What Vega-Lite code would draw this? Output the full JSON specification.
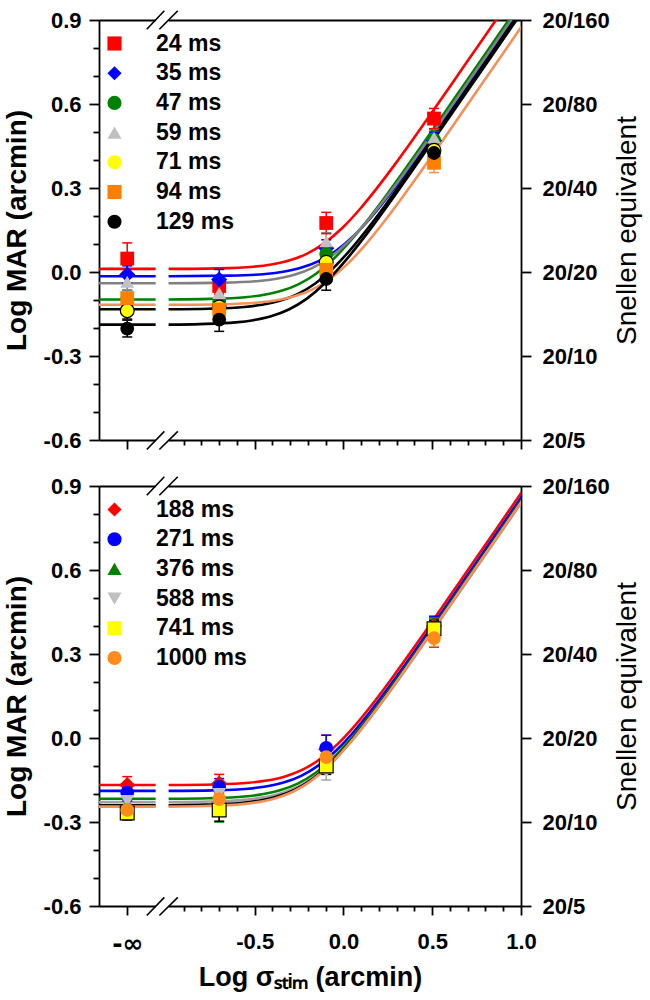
{
"$schema": "https://vega.github.io/schema/vega-lite/v6.json",
"padding": {"left": 3, "top": 9, "right": 2, "bottom": 2},
"background": "white",
"config": {
  "font": "Liberation Sans",
  "view": {"stroke": null},
  "concat": {"spacing": 24},
  "axis": {"labelFont": "Liberation Sans", "labelFontWeight": "bold", "labelFontSize": 22, "labelColor": "black",
           "titleFont": "Liberation Sans", "titleFontWeight": "bold", "titleFontSize": 28, "titleColor": "black",
           "domainColor": "black", "tickColor": "black", "domainWidth": 1.8, "tickWidth": 1.8, "grid": false,
           "labelFlush": false, "labelOverlap": false, "labelBound": false},
  "legend": {"orient": "none", "legendX": 4, "legendY": 12, "padding": 0, "labelFont": "Liberation Sans", "labelFontWeight": "bold",
             "labelFontSize": 23, "labelColor": "black", "labelOffset": 30, "rowPadding": 5.7, "symbolSize": 200, "symbolStrokeWidth": 0}
},
"datasets": {
  "gaps": [{"x": -1.058, "x2": -0.985, "y": -0.6}, {"x": -1.058, "x2": -0.985, "y": 0.9}],
  "slashes": [
    {"xa": -1.108, "ya": -0.634, "xb": -1.009, "yb": -0.569},
    {"xa": -1.037, "ya": -0.634, "xb": -0.933, "yb": -0.569},
    {"xa": -1.108, "ya": 0.867, "xb": -1.009, "yb": 0.933},
    {"xa": -1.037, "ya": 0.867, "xb": -0.933, "yb": 0.933}
  ],
  "pts1": [
    {"s":"24 ms","x":-1.218,"y":0.048,"lo":-0.008,"hi":0.104},
    {"s":"24 ms","x":-0.7,"y":-0.05,"lo":-0.08,"hi":-0.02},
    {"s":"24 ms","x":-0.097,"y":0.175,"lo":0.137,"hi":0.213},
    {"s":"24 ms","x":0.51,"y":0.548,"lo":0.512,"hi":0.584},
    {"s":"35 ms","x":-1.218,"y":-0.009,"lo":-0.04,"hi":0.022},
    {"s":"35 ms","x":-0.7,"y":-0.027,"lo":-0.063,"hi":0.009},
    {"s":"35 ms","x":-0.097,"y":0.085,"lo":0.055,"hi":0.115},
    {"s":"35 ms","x":0.51,"y":0.47,"lo":0.44,"hi":0.5},
    {"s":"47 ms","x":-1.218,"y":-0.095,"lo":-0.125,"hi":-0.065},
    {"s":"47 ms","x":-0.7,"y":-0.105,"lo":-0.135,"hi":-0.075},
    {"s":"47 ms","x":-0.097,"y":0.065,"lo":0.035,"hi":0.095},
    {"s":"47 ms","x":0.51,"y":0.473,"lo":0.443,"hi":0.503},
    {"s":"59 ms","x":-1.218,"y":-0.035,"lo":-0.065,"hi":-0.005},
    {"s":"59 ms","x":-0.7,"y":-0.075,"lo":-0.105,"hi":-0.045},
    {"s":"59 ms","x":-0.097,"y":0.11,"lo":0.08,"hi":0.14},
    {"s":"59 ms","x":0.51,"y":0.48,"lo":0.45,"hi":0.51},
    {"s":"71 ms","x":-1.218,"y":-0.138,"lo":-0.168,"hi":-0.108},
    {"s":"71 ms","x":-0.7,"y":-0.125,"lo":-0.155,"hi":-0.095},
    {"s":"71 ms","x":-0.097,"y":0.035,"lo":0.005,"hi":0.065},
    {"s":"71 ms","x":0.51,"y":0.435,"lo":0.405,"hi":0.465},
    {"s":"94 ms","x":-1.218,"y":-0.093,"lo":-0.123,"hi":-0.063},
    {"s":"94 ms","x":-0.7,"y":-0.134,"lo":-0.169,"hi":-0.099},
    {"s":"94 ms","x":-0.097,"y":0.008,"lo":-0.022,"hi":0.038},
    {"s":"94 ms","x":0.51,"y":0.39,"lo":0.355,"hi":0.425},
    {"s":"129 ms","x":-1.218,"y":-0.202,"lo":-0.232,"hi":-0.172},
    {"s":"129 ms","x":-0.7,"y":-0.17,"lo":-0.212,"hi":-0.128},
    {"s":"129 ms","x":-0.097,"y":-0.025,"lo":-0.065,"hi":0.015},
    {"s":"129 ms","x":0.51,"y":0.425,"lo":0.395,"hi":0.455}
  ],
  "pts2": [
    {"s":"188 ms","x":-1.218,"y":-0.168,"lo":-0.198,"hi":-0.138},
    {"s":"188 ms","x":-0.7,"y":-0.163,"lo":-0.196,"hi":-0.13},
    {"s":"188 ms","x":-0.097,"y":-0.04,"lo":-0.09,"hi":0.01},
    {"s":"188 ms","x":0.51,"y":0.4,"lo":0.37,"hi":0.43},
    {"s":"271 ms","x":-1.218,"y":-0.195,"lo":-0.225,"hi":-0.165},
    {"s":"271 ms","x":-0.7,"y":-0.175,"lo":-0.205,"hi":-0.145},
    {"s":"271 ms","x":-0.097,"y":-0.035,"lo":-0.08,"hi":0.01},
    {"s":"271 ms","x":0.51,"y":0.38,"lo":0.325,"hi":0.435},
    {"s":"376 ms","x":-1.218,"y":-0.235,"lo":-0.265,"hi":-0.205},
    {"s":"376 ms","x":-0.7,"y":-0.255,"lo":-0.3,"hi":-0.21},
    {"s":"376 ms","x":-0.097,"y":-0.085,"lo":-0.115,"hi":-0.055},
    {"s":"376 ms","x":0.51,"y":0.405,"lo":0.385,"hi":0.425},
    {"s":"588 ms","x":-1.218,"y":-0.225,"lo":-0.255,"hi":-0.195},
    {"s":"588 ms","x":-0.7,"y":-0.2,"lo":-0.23,"hi":-0.17},
    {"s":"588 ms","x":-0.097,"y":-0.12,"lo":-0.15,"hi":-0.09},
    {"s":"588 ms","x":0.51,"y":0.38,"lo":0.35,"hi":0.41},
    {"s":"741 ms","x":-1.218,"y":-0.268,"lo":-0.293,"hi":-0.243},
    {"s":"741 ms","x":-0.7,"y":-0.257,"lo":-0.297,"hi":-0.217},
    {"s":"741 ms","x":-0.097,"y":-0.1,"lo":-0.13,"hi":-0.07},
    {"s":"741 ms","x":0.51,"y":0.39,"lo":0.36,"hi":0.42},
    {"s":"1000 ms","x":-1.218,"y":-0.257,"lo":-0.287,"hi":-0.227},
    {"s":"1000 ms","x":-0.7,"y":-0.218,"lo":-0.248,"hi":-0.188},
    {"s":"1000 ms","x":-0.097,"y":-0.068,"lo":-0.098,"hi":-0.038},
    {"s":"1000 ms","x":0.51,"y":0.357,"lo":0.327,"hi":0.387}
  ],
  "curves1": [
    {"s":"24 ms","g":"A","x":-1.377,"y":0.011},{"s":"24 ms","g":"A","x":-1.058,"y":0.011},
    {"s":"24 ms","g":"B","x":-0.985,"y":0.011},{"s":"24 ms","g":"B","x":-0.707,"y":0.013},{"s":"24 ms","g":"B","x":-0.507,"y":0.019},{"s":"24 ms","g":"B","x":-0.407,"y":0.027},{"s":"24 ms","g":"B","x":-0.307,"y":0.041},{"s":"24 ms","g":"B","x":-0.207,"y":0.065},{"s":"24 ms","g":"B","x":-0.107,"y":0.103},{"s":"24 ms","g":"B","x":-0.007,"y":0.157},{"s":"24 ms","g":"B","x":0.093,"y":0.225},{"s":"24 ms","g":"B","x":0.193,"y":0.303},{"s":"24 ms","g":"B","x":0.293,"y":0.387},{"s":"24 ms","g":"B","x":0.393,"y":0.475},{"s":"24 ms","g":"B","x":0.493,"y":0.565},{"s":"24 ms","g":"B","x":0.693,"y":0.748},{"s":"24 ms","g":"B","x":0.893,"y":0.931},{"s":"24 ms","g":"B","x":1.093,"y":1.115},
    {"s":"35 ms","g":"A","x":-1.377,"y":-0.015},{"s":"35 ms","g":"A","x":-1.058,"y":-0.015},
    {"s":"35 ms","g":"B","x":-0.985,"y":-0.015},{"s":"35 ms","g":"B","x":-0.64,"y":-0.013},{"s":"35 ms","g":"B","x":-0.44,"y":-0.007},{"s":"35 ms","g":"B","x":-0.34,"y":0.001},{"s":"35 ms","g":"B","x":-0.24,"y":0.015},{"s":"35 ms","g":"B","x":-0.14,"y":0.039},{"s":"35 ms","g":"B","x":-0.04,"y":0.077},{"s":"35 ms","g":"B","x":0.06,"y":0.131},{"s":"35 ms","g":"B","x":0.16,"y":0.199},{"s":"35 ms","g":"B","x":0.26,"y":0.277},{"s":"35 ms","g":"B","x":0.36,"y":0.361},{"s":"35 ms","g":"B","x":0.46,"y":0.449},{"s":"35 ms","g":"B","x":0.56,"y":0.539},{"s":"35 ms","g":"B","x":0.76,"y":0.722},{"s":"35 ms","g":"B","x":0.96,"y":0.905},{"s":"35 ms","g":"B","x":1.16,"y":1.089},
    {"s":"47 ms","g":"A","x":-1.377,"y":-0.098},{"s":"47 ms","g":"A","x":-1.058,"y":-0.098},
    {"s":"47 ms","g":"B","x":-0.985,"y":-0.098},{"s":"47 ms","g":"B","x":-0.754,"y":-0.096},{"s":"47 ms","g":"B","x":-0.554,"y":-0.09},{"s":"47 ms","g":"B","x":-0.454,"y":-0.082},{"s":"47 ms","g":"B","x":-0.354,"y":-0.068},{"s":"47 ms","g":"B","x":-0.254,"y":-0.044},{"s":"47 ms","g":"B","x":-0.154,"y":-0.006},{"s":"47 ms","g":"B","x":-0.054,"y":0.048},{"s":"47 ms","g":"B","x":0.046,"y":0.116},{"s":"47 ms","g":"B","x":0.146,"y":0.194},{"s":"47 ms","g":"B","x":0.246,"y":0.278},{"s":"47 ms","g":"B","x":0.346,"y":0.366},{"s":"47 ms","g":"B","x":0.446,"y":0.456},{"s":"47 ms","g":"B","x":0.646,"y":0.639},{"s":"47 ms","g":"B","x":0.846,"y":0.822},{"s":"47 ms","g":"B","x":1.046,"y":1.006},
    {"s":"59 ms","g":"A","x":-1.377,"y":-0.04},{"s":"59 ms","g":"A","x":-1.058,"y":-0.04},
    {"s":"59 ms","g":"B","x":-0.985,"y":-0.04},{"s":"59 ms","g":"B","x":-0.677,"y":-0.038},{"s":"59 ms","g":"B","x":-0.477,"y":-0.032},{"s":"59 ms","g":"B","x":-0.377,"y":-0.024},{"s":"59 ms","g":"B","x":-0.277,"y":-0.01},{"s":"59 ms","g":"B","x":-0.177,"y":0.014},{"s":"59 ms","g":"B","x":-0.077,"y":0.052},{"s":"59 ms","g":"B","x":0.023,"y":0.106},{"s":"59 ms","g":"B","x":0.123,"y":0.174},{"s":"59 ms","g":"B","x":0.223,"y":0.252},{"s":"59 ms","g":"B","x":0.323,"y":0.336},{"s":"59 ms","g":"B","x":0.423,"y":0.424},{"s":"59 ms","g":"B","x":0.523,"y":0.514},{"s":"59 ms","g":"B","x":0.723,"y":0.697},{"s":"59 ms","g":"B","x":0.923,"y":0.88},{"s":"59 ms","g":"B","x":1.123,"y":1.064},
    {"s":"71 ms","g":"A","x":-1.377,"y":-0.133},{"s":"71 ms","g":"A","x":-1.058,"y":-0.133},
    {"s":"71 ms","g":"B","x":-0.985,"y":-0.133},{"s":"71 ms","g":"B","x":-0.759,"y":-0.131},{"s":"71 ms","g":"B","x":-0.559,"y":-0.125},{"s":"71 ms","g":"B","x":-0.459,"y":-0.117},{"s":"71 ms","g":"B","x":-0.359,"y":-0.103},{"s":"71 ms","g":"B","x":-0.259,"y":-0.079},{"s":"71 ms","g":"B","x":-0.159,"y":-0.041},{"s":"71 ms","g":"B","x":-0.059,"y":0.013},{"s":"71 ms","g":"B","x":0.041,"y":0.081},{"s":"71 ms","g":"B","x":0.141,"y":0.159},{"s":"71 ms","g":"B","x":0.241,"y":0.243},{"s":"71 ms","g":"B","x":0.341,"y":0.331},{"s":"71 ms","g":"B","x":0.441,"y":0.421},{"s":"71 ms","g":"B","x":0.641,"y":0.604},{"s":"71 ms","g":"B","x":0.841,"y":0.787},{"s":"71 ms","g":"B","x":1.041,"y":0.971},
    {"s":"94 ms","g":"A","x":-1.377,"y":-0.117},{"s":"94 ms","g":"A","x":-1.058,"y":-0.117},
    {"s":"94 ms","g":"B","x":-0.985,"y":-0.117},{"s":"94 ms","g":"B","x":-0.677,"y":-0.115},{"s":"94 ms","g":"B","x":-0.477,"y":-0.109},{"s":"94 ms","g":"B","x":-0.377,"y":-0.101},{"s":"94 ms","g":"B","x":-0.277,"y":-0.087},{"s":"94 ms","g":"B","x":-0.177,"y":-0.063},{"s":"94 ms","g":"B","x":-0.077,"y":-0.025},{"s":"94 ms","g":"B","x":0.023,"y":0.029},{"s":"94 ms","g":"B","x":0.123,"y":0.097},{"s":"94 ms","g":"B","x":0.223,"y":0.175},{"s":"94 ms","g":"B","x":0.323,"y":0.259},{"s":"94 ms","g":"B","x":0.423,"y":0.347},{"s":"94 ms","g":"B","x":0.523,"y":0.437},{"s":"94 ms","g":"B","x":0.723,"y":0.62},{"s":"94 ms","g":"B","x":0.923,"y":0.803},{"s":"94 ms","g":"B","x":1.123,"y":0.987},
    {"s":"129 ms","g":"A","x":-1.377,"y":-0.188},{"s":"129 ms","g":"A","x":-1.058,"y":-0.188},
    {"s":"129 ms","g":"B","x":-0.985,"y":-0.188},{"s":"129 ms","g":"B","x":-0.808,"y":-0.186},{"s":"129 ms","g":"B","x":-0.608,"y":-0.18},{"s":"129 ms","g":"B","x":-0.508,"y":-0.172},{"s":"129 ms","g":"B","x":-0.408,"y":-0.158},{"s":"129 ms","g":"B","x":-0.308,"y":-0.134},{"s":"129 ms","g":"B","x":-0.208,"y":-0.096},{"s":"129 ms","g":"B","x":-0.108,"y":-0.042},{"s":"129 ms","g":"B","x":-0.008,"y":0.026},{"s":"129 ms","g":"B","x":0.092,"y":0.104},{"s":"129 ms","g":"B","x":0.192,"y":0.188},{"s":"129 ms","g":"B","x":0.292,"y":0.276},{"s":"129 ms","g":"B","x":0.392,"y":0.366},{"s":"129 ms","g":"B","x":0.592,"y":0.549},{"s":"129 ms","g":"B","x":0.792,"y":0.732},{"s":"129 ms","g":"B","x":0.992,"y":0.916},{"s":"129 ms","g":"B","x":1.192,"y":1.1}
  ],
  "curves2": [
    {"s":"188 ms","g":"A","x":-1.377,"y":-0.168},{"s":"188 ms","g":"A","x":-1.058,"y":-0.168},
    {"s":"188 ms","g":"B","x":-0.985,"y":-0.168},{"s":"188 ms","g":"B","x":-0.733,"y":-0.166},{"s":"188 ms","g":"B","x":-0.533,"y":-0.16},{"s":"188 ms","g":"B","x":-0.433,"y":-0.152},{"s":"188 ms","g":"B","x":-0.333,"y":-0.138},{"s":"188 ms","g":"B","x":-0.233,"y":-0.114},{"s":"188 ms","g":"B","x":-0.133,"y":-0.076},{"s":"188 ms","g":"B","x":-0.033,"y":-0.022},{"s":"188 ms","g":"B","x":0.067,"y":0.046},{"s":"188 ms","g":"B","x":0.167,"y":0.124},{"s":"188 ms","g":"B","x":0.267,"y":0.208},{"s":"188 ms","g":"B","x":0.367,"y":0.296},{"s":"188 ms","g":"B","x":0.467,"y":0.386},{"s":"188 ms","g":"B","x":0.667,"y":0.569},{"s":"188 ms","g":"B","x":0.867,"y":0.752},{"s":"188 ms","g":"B","x":1.067,"y":0.936},
    {"s":"271 ms","g":"A","x":-1.377,"y":-0.189},{"s":"271 ms","g":"A","x":-1.058,"y":-0.189},
    {"s":"271 ms","g":"B","x":-0.985,"y":-0.189},{"s":"271 ms","g":"B","x":-0.738,"y":-0.187},{"s":"271 ms","g":"B","x":-0.538,"y":-0.181},{"s":"271 ms","g":"B","x":-0.438,"y":-0.173},{"s":"271 ms","g":"B","x":-0.338,"y":-0.159},{"s":"271 ms","g":"B","x":-0.238,"y":-0.135},{"s":"271 ms","g":"B","x":-0.138,"y":-0.097},{"s":"271 ms","g":"B","x":-0.038,"y":-0.043},{"s":"271 ms","g":"B","x":0.062,"y":0.025},{"s":"271 ms","g":"B","x":0.162,"y":0.103},{"s":"271 ms","g":"B","x":0.262,"y":0.187},{"s":"271 ms","g":"B","x":0.362,"y":0.275},{"s":"271 ms","g":"B","x":0.462,"y":0.365},{"s":"271 ms","g":"B","x":0.662,"y":0.548},{"s":"271 ms","g":"B","x":0.862,"y":0.731},{"s":"271 ms","g":"B","x":1.062,"y":0.915},
    {"s":"376 ms","g":"A","x":-1.377,"y":-0.217},{"s":"376 ms","g":"A","x":-1.058,"y":-0.217},
    {"s":"376 ms","g":"B","x":-0.985,"y":-0.217},{"s":"376 ms","g":"B","x":-0.758,"y":-0.215},{"s":"376 ms","g":"B","x":-0.558,"y":-0.209},{"s":"376 ms","g":"B","x":-0.458,"y":-0.201},{"s":"376 ms","g":"B","x":-0.358,"y":-0.187},{"s":"376 ms","g":"B","x":-0.258,"y":-0.163},{"s":"376 ms","g":"B","x":-0.158,"y":-0.125},{"s":"376 ms","g":"B","x":-0.058,"y":-0.071},{"s":"376 ms","g":"B","x":0.042,"y":-0.003},{"s":"376 ms","g":"B","x":0.142,"y":0.075},{"s":"376 ms","g":"B","x":0.242,"y":0.159},{"s":"376 ms","g":"B","x":0.342,"y":0.247},{"s":"376 ms","g":"B","x":0.442,"y":0.337},{"s":"376 ms","g":"B","x":0.642,"y":0.52},{"s":"376 ms","g":"B","x":0.842,"y":0.703},{"s":"376 ms","g":"B","x":1.042,"y":0.887},
    {"s":"588 ms","g":"A","x":-1.377,"y":-0.229},{"s":"588 ms","g":"A","x":-1.058,"y":-0.229},
    {"s":"588 ms","g":"B","x":-0.985,"y":-0.229},{"s":"588 ms","g":"B","x":-0.76,"y":-0.227},{"s":"588 ms","g":"B","x":-0.56,"y":-0.221},{"s":"588 ms","g":"B","x":-0.46,"y":-0.213},{"s":"588 ms","g":"B","x":-0.36,"y":-0.199},{"s":"588 ms","g":"B","x":-0.26,"y":-0.175},{"s":"588 ms","g":"B","x":-0.16,"y":-0.137},{"s":"588 ms","g":"B","x":-0.06,"y":-0.083},{"s":"588 ms","g":"B","x":0.04,"y":-0.015},{"s":"588 ms","g":"B","x":0.14,"y":0.063},{"s":"588 ms","g":"B","x":0.24,"y":0.147},{"s":"588 ms","g":"B","x":0.34,"y":0.235},{"s":"588 ms","g":"B","x":0.44,"y":0.325},{"s":"588 ms","g":"B","x":0.64,"y":0.508},{"s":"588 ms","g":"B","x":0.84,"y":0.691},{"s":"588 ms","g":"B","x":1.04,"y":0.875},
    {"s":"741 ms","g":"A","x":-1.377,"y":-0.24},{"s":"741 ms","g":"A","x":-1.058,"y":-0.24},
    {"s":"741 ms","g":"B","x":-0.985,"y":-0.24},{"s":"741 ms","g":"B","x":-0.779,"y":-0.238},{"s":"741 ms","g":"B","x":-0.579,"y":-0.232},{"s":"741 ms","g":"B","x":-0.479,"y":-0.224},{"s":"741 ms","g":"B","x":-0.379,"y":-0.21},{"s":"741 ms","g":"B","x":-0.279,"y":-0.186},{"s":"741 ms","g":"B","x":-0.179,"y":-0.148},{"s":"741 ms","g":"B","x":-0.079,"y":-0.094},{"s":"741 ms","g":"B","x":0.021,"y":-0.026},{"s":"741 ms","g":"B","x":0.121,"y":0.052},{"s":"741 ms","g":"B","x":0.221,"y":0.136},{"s":"741 ms","g":"B","x":0.321,"y":0.224},{"s":"741 ms","g":"B","x":0.421,"y":0.314},{"s":"741 ms","g":"B","x":0.621,"y":0.497},{"s":"741 ms","g":"B","x":0.821,"y":0.68},{"s":"741 ms","g":"B","x":1.021,"y":0.864},
    {"s":"1000 ms","g":"A","x":-1.377,"y":-0.245},{"s":"1000 ms","g":"A","x":-1.058,"y":-0.245},
    {"s":"1000 ms","g":"B","x":-0.985,"y":-0.245},{"s":"1000 ms","g":"B","x":-0.782,"y":-0.243},{"s":"1000 ms","g":"B","x":-0.582,"y":-0.237},{"s":"1000 ms","g":"B","x":-0.482,"y":-0.229},{"s":"1000 ms","g":"B","x":-0.382,"y":-0.215},{"s":"1000 ms","g":"B","x":-0.282,"y":-0.191},{"s":"1000 ms","g":"B","x":-0.182,"y":-0.153},{"s":"1000 ms","g":"B","x":-0.082,"y":-0.099},{"s":"1000 ms","g":"B","x":0.018,"y":-0.031},{"s":"1000 ms","g":"B","x":0.118,"y":0.047},{"s":"1000 ms","g":"B","x":0.218,"y":0.131},{"s":"1000 ms","g":"B","x":0.318,"y":0.219},{"s":"1000 ms","g":"B","x":0.418,"y":0.309},{"s":"1000 ms","g":"B","x":0.618,"y":0.492},{"s":"1000 ms","g":"B","x":0.818,"y":0.675},{"s":"1000 ms","g":"B","x":1.018,"y":0.859}
  ]
},
"vconcat": [
{
  "width": 422, "height": 420,
  "resolve": {"axis": {"x": "independent", "y": "independent"}},
  "layer": [
    {
      "data": {"name": "curves1"},
      "mark": {"type": "line", "clip": true, "strokeWidth": 2.6, "interpolate": "monotone"},
      "encoding": {
        "x": {"field": "x", "type": "quantitative", "scale": {"domain": [-1.377, 1.0], "nice": false, "zero": false},
              "axis": {"orient": "bottom", "values": [-1.218, -0.5, 0, 0.5, 1], "tickSize": 9, "labels": false, "title": null}},
        "y": {"field": "y", "type": "quantitative", "scale": {"domain": [-0.6, 0.9], "nice": false, "zero": false},
              "axis": {"orient": "left", "values": [-0.6, -0.3, 0, 0.3, 0.6, 0.9], "tickSize": 10, "labelPadding": 8, "titlePadding": 12,
                       "title": "Log MAR (arcmin)", "labelExpr": "replace(format(datum.value, '.1f'), '−', '-')"}},
        "stroke": {"field": "s", "type": "nominal", "legend": null,
                   "scale": {"domain": ["129 ms","94 ms","71 ms","59 ms","47 ms","35 ms","24 ms"],
                             "range": ["#000000","#f4915a","#000000","#808080","#008000","#0000ff","#ff0000"]}},
        "detail": {"field": "g", "type": "nominal"}
      }
    },
    {
      "data": {"name": "gaps"},
      "mark": {"type": "rule", "color": "white", "strokeWidth": 5},
      "encoding": {
        "x": {"field": "x", "type": "quantitative", "axis": {"orient": "bottom", "values": [-0.9,-0.8,-0.7,-0.6,-0.4,-0.3,-0.2,-0.1,0.1,0.2,0.3,0.4,0.6,0.7,0.8,0.9], "tickSize": 5, "labels": false, "title": null, "domain": false}},
        "x2": {"field": "x2"},
        "y": {"field": "y", "type": "quantitative", "axis": {"orient": "left", "values": [-0.5,-0.4,-0.2,-0.1,0.1,0.2,0.4,0.5,0.7,0.8], "tickSize": 6, "labels": false, "title": null, "domain": false}}
      }
    },
    {
      "data": {"name": "slashes"},
      "mark": {"type": "rule", "color": "black", "strokeWidth": 1.6},
      "encoding": {
        "x": {"field": "xa", "type": "quantitative", "axis": null},
        "y": {"field": "ya", "type": "quantitative", "axis": null},
        "x2": {"field": "xb"},
        "y2": {"field": "yb"}
      }
    },
    {
      "data": {"name": "pts1"},
      "mark": {"type": "rule", "strokeWidth": 1.5},
      "encoding": {
        "x": {"field": "x", "type": "quantitative", "axis": {"orient": "top", "ticks": false, "labels": false, "title": null, "domain": true}},
        "y": {"field": "lo", "type": "quantitative",
              "axis": {"orient": "right", "values": [-0.6, -0.3, 0, 0.3, 0.6, 0.9], "tickSize": 10, "labelPadding": 11, "titlePadding": 4,
                       "title": "Snellen equivalent", "titleAngle": 270, "titleBaseline": "top", "titleFontWeight": "normal",
                       "labelExpr": "datum.value < -0.5 ? '20/5' : datum.value < -0.2 ? '20/10' : datum.value < 0.1 ? '20/20' : datum.value < 0.4 ? '20/40' : datum.value < 0.7 ? '20/80' : '20/160'"}},
        "y2": {"field": "hi"},
        "stroke": {"field": "s", "type": "nominal", "legend": null}
      }
    },
    {
      "data": {"name": "pts1"},
      "mark": {"type": "point", "shape": "stroke", "size": 100, "strokeWidth": 1.5, "filled": false, "opacity": 1},
      "encoding": {
        "x": {"field": "x", "type": "quantitative", "axis": null},
        "y": {"field": "hi", "type": "quantitative", "axis": null},
        "stroke": {"field": "s", "type": "nominal", "legend": null}
      }
    },
    {
      "data": {"name": "pts1"},
      "mark": {"type": "point", "shape": "stroke", "size": 100, "strokeWidth": 1.5, "filled": false, "opacity": 1},
      "encoding": {
        "x": {"field": "x", "type": "quantitative", "axis": null},
        "y": {"field": "lo", "type": "quantitative", "axis": null},
        "stroke": {"field": "s", "type": "nominal", "legend": null}
      }
    },
    {
      "data": {"name": "pts1"},
      "mark": {"type": "point", "filled": true, "opacity": 1, "stroke": "black"},
      "encoding": {
        "x": {"field": "x", "type": "quantitative", "axis": null},
        "y": {"field": "y", "type": "quantitative", "axis": null},
        "fill": {"field": "s", "type": "nominal",
                 "scale": {"domain": ["24 ms","35 ms","47 ms","59 ms","71 ms","94 ms","129 ms"],
                           "range": ["#ff0000","#0000ff","#008000","#c0c0c0","#ffff00","#ff8000","#000000"]},
                 "legend": {"title": null, "orient": "none", "legendX": 4, "legendY": 12}},
        "shape": {"field": "s", "type": "nominal",
                  "scale": {"domain": ["24 ms","35 ms","47 ms","59 ms","71 ms","94 ms","129 ms"],
                            "range": ["square","diamond","circle","triangle-up","circle","square","circle"]},
                  "legend": {"title": null, "orient": "none", "legendX": 4, "legendY": 12}},
        "size": {"condition": {"test": "datum.s === '35 ms'", "value": 260}, "value": 190},
        "strokeWidth": {"condition": {"test": "datum.s === '71 ms'", "value": 1.2}, "value": 0}
      }
    }
  ]
},
{
  "width": 422, "height": 420,
  "resolve": {"axis": {"x": "independent", "y": "independent"}},
  "layer": [
    {
      "data": {"name": "curves2"},
      "mark": {"type": "line", "clip": true, "strokeWidth": 2.6, "interpolate": "monotone"},
      "encoding": {
        "x": {"field": "x", "type": "quantitative", "scale": {"domain": [-1.377, 1.0], "nice": false, "zero": false},
              "axis": {"orient": "bottom", "values": [-1.218, -0.5, 0, 0.5, 1], "tickSize": 9, "labelPadding": 16, "titlePadding": 8,
                       "title": "Log σₛₜᵢₘ (arcmin)", "titleFontSize": 27,
                       "labelFont": {"condition": {"test": "datum.value < -1", "value": "DejaVu Sans"}, "value": "Liberation Sans"},
                       "labelFontSize": {"condition": {"test": "datum.value < -1", "value": 25}, "value": 22},
                       "labelExpr": "datum.value < -1 ? '-∞' : replace(format(datum.value, '.1f'), '−', '-')"}},
        "y": {"field": "y", "type": "quantitative", "scale": {"domain": [-0.6, 0.9], "nice": false, "zero": false},
              "axis": {"orient": "left", "values": [-0.6, -0.3, 0, 0.3, 0.6, 0.9], "tickSize": 10, "labelPadding": 8, "titlePadding": 12,
                       "title": "Log MAR (arcmin)", "labelExpr": "replace(format(datum.value, '.1f'), '−', '-')"}},
        "stroke": {"field": "s", "type": "nominal", "legend": null,
                   "scale": {"domain": ["1000 ms","741 ms","588 ms","376 ms","271 ms","188 ms"],
                             "range": ["#f4915a","#000000","#a0a0a0","#008000","#0000ff","#ff0000"]}},
        "detail": {"field": "g", "type": "nominal"}
      }
    },
    {
      "data": {"name": "gaps"},
      "mark": {"type": "rule", "color": "white", "strokeWidth": 5},
      "encoding": {
        "x": {"field": "x", "type": "quantitative", "axis": {"orient": "bottom", "values": [-0.9,-0.8,-0.7,-0.6,-0.4,-0.3,-0.2,-0.1,0.1,0.2,0.3,0.4,0.6,0.7,0.8,0.9], "tickSize": 5, "labels": false, "title": null, "domain": false}},
        "x2": {"field": "x2"},
        "y": {"field": "y", "type": "quantitative", "axis": {"orient": "left", "values": [-0.5,-0.4,-0.2,-0.1,0.1,0.2,0.4,0.5,0.7,0.8], "tickSize": 6, "labels": false, "title": null, "domain": false}}
      }
    },
    {
      "data": {"name": "slashes"},
      "mark": {"type": "rule", "color": "black", "strokeWidth": 1.6},
      "encoding": {
        "x": {"field": "xa", "type": "quantitative", "axis": null},
        "y": {"field": "ya", "type": "quantitative", "axis": null},
        "x2": {"field": "xb"},
        "y2": {"field": "yb"}
      }
    },
    {
      "data": {"name": "pts2"},
      "mark": {"type": "rule", "strokeWidth": 1.5},
      "encoding": {
        "x": {"field": "x", "type": "quantitative", "axis": {"orient": "top", "ticks": false, "labels": false, "title": null, "domain": true}},
        "y": {"field": "lo", "type": "quantitative",
              "axis": {"orient": "right", "values": [-0.6, -0.3, 0, 0.3, 0.6, 0.9], "tickSize": 10, "labelPadding": 11, "titlePadding": 4,
                       "title": "Snellen equivalent", "titleAngle": 270, "titleBaseline": "top", "titleFontWeight": "normal",
                       "labelExpr": "datum.value < -0.5 ? '20/5' : datum.value < -0.2 ? '20/10' : datum.value < 0.1 ? '20/20' : datum.value < 0.4 ? '20/40' : datum.value < 0.7 ? '20/80' : '20/160'"}},
        "y2": {"field": "hi"},
        "stroke": {"field": "s", "type": "nominal", "legend": null}
      }
    },
    {
      "data": {"name": "pts2"},
      "mark": {"type": "point", "shape": "stroke", "size": 100, "strokeWidth": 1.5, "filled": false, "opacity": 1},
      "encoding": {
        "x": {"field": "x", "type": "quantitative", "axis": null},
        "y": {"field": "hi", "type": "quantitative", "axis": null},
        "stroke": {"field": "s", "type": "nominal", "legend": null}
      }
    },
    {
      "data": {"name": "pts2"},
      "mark": {"type": "point", "shape": "stroke", "size": 100, "strokeWidth": 1.5, "filled": false, "opacity": 1},
      "encoding": {
        "x": {"field": "x", "type": "quantitative", "axis": null},
        "y": {"field": "lo", "type": "quantitative", "axis": null},
        "stroke": {"field": "s", "type": "nominal", "legend": null}
      }
    },
    {
      "data": {"name": "pts2"},
      "mark": {"type": "point", "filled": true, "opacity": 1, "stroke": "black"},
      "encoding": {
        "x": {"field": "x", "type": "quantitative", "axis": null},
        "y": {"field": "y", "type": "quantitative", "axis": null},
        "fill": {"field": "s", "type": "nominal",
                 "scale": {"domain": ["188 ms","271 ms","376 ms","588 ms","741 ms","1000 ms"],
                           "range": ["#ff0000","#0000ff","#008000","#c0c0c0","#ffff00","#ff8c1a"]},
                 "legend": {"title": null, "orient": "none", "legendX": 4, "legendY": 12}},
        "shape": {"field": "s", "type": "nominal",
                  "scale": {"domain": ["188 ms","271 ms","376 ms","588 ms","741 ms","1000 ms"],
                            "range": ["diamond","circle","triangle-up","triangle-down","square","circle"]},
                  "legend": {"title": null, "orient": "none", "legendX": 4, "legendY": 12}},
        "size": {"condition": {"test": "datum.s === '188 ms'", "value": 260}, "value": 190},
        "strokeWidth": {"condition": {"test": "datum.s === '741 ms'", "value": 1.2}, "value": 0}
      }
    }
  ]
}
],
"resolve": {"scale": {"stroke": "independent", "fill": "independent", "shape": "independent"}}
}
